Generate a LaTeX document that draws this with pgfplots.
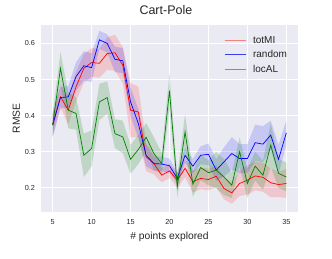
\documentclass[border=0pt]{standalone}
\usepackage{pgfplots}
\pgfplotsset{compat=1.18}
\usepackage{pgfplotstable}
\usepgfplotslibrary{fillbetween}
\usepackage{fontspec}
\setmainfont{Liberation Sans}
\definecolor{sbbg}{RGB}{234,234,242}
\definecolor{txt}{RGB}{38,38,38}
\definecolor{mgreen}{RGB}{0,128,0}
\definecolor{legred}{RGB}{240,130,130}
\definecolor{legblue}{RGB}{60,60,245}
\definecolor{leggreen}{RGB}{90,175,90}

\pgfplotstableread{
x y lo hi
5 0.374 0.344 0.404
6 0.452 0.422 0.482
7 0.415 0.375 0.455
8 0.480 0.440 0.520
9 0.531 0.491 0.571
10 0.547 0.507 0.587
11 0.545 0.505 0.585
12 0.572 0.527 0.617
13 0.574 0.524 0.624
14 0.540 0.490 0.590
15 0.415 0.340 0.490
16 0.410 0.340 0.480
17 0.286 0.246 0.326
18 0.267 0.237 0.297
19 0.235 0.215 0.255
20 0.247 0.227 0.267
21 0.221 0.201 0.241
22 0.254 0.229 0.279
23 0.217 0.187 0.247
24 0.226 0.196 0.256
25 0.223 0.193 0.253
26 0.232 0.202 0.262
27 0.198 0.168 0.228
28 0.186 0.156 0.216
29 0.212 0.177 0.247
30 0.221 0.181 0.261
31 0.233 0.193 0.273
32 0.229 0.189 0.269
33 0.214 0.174 0.254
34 0.209 0.174 0.244
35 0.212 0.172 0.252
}\totmi

\pgfplotstableread{
x y lo hi
5 0.374 0.339 0.409
6 0.450 0.420 0.480
7 0.452 0.422 0.482
8 0.508 0.468 0.548
9 0.538 0.498 0.578
10 0.533 0.493 0.573
11 0.610 0.585 0.635
12 0.600 0.575 0.625
13 0.556 0.521 0.591
14 0.552 0.517 0.587
15 0.438 0.398 0.478
16 0.378 0.338 0.418
17 0.290 0.260 0.320
18 0.267 0.247 0.287
19 0.266 0.246 0.286
20 0.261 0.241 0.281
21 0.226 0.211 0.241
22 0.290 0.270 0.310
23 0.260 0.240 0.280
24 0.290 0.265 0.315
25 0.293 0.263 0.323
26 0.249 0.219 0.279
27 0.272 0.232 0.312
28 0.295 0.250 0.340
29 0.281 0.241 0.321
30 0.281 0.241 0.321
31 0.325 0.275 0.375
32 0.321 0.271 0.371
33 0.346 0.306 0.386
34 0.279 0.239 0.319
35 0.352 0.317 0.387
}\random

\pgfplotstableread{
x y lo hi
5 0.374 0.344 0.404
6 0.531 0.486 0.576
7 0.415 0.365 0.465
8 0.406 0.361 0.451
9 0.290 0.230 0.350
10 0.309 0.259 0.359
11 0.438 0.388 0.488
12 0.450 0.405 0.495
13 0.350 0.310 0.390
14 0.341 0.296 0.386
15 0.279 0.239 0.319
16 0.306 0.266 0.346
17 0.340 0.300 0.380
18 0.295 0.250 0.340
19 0.267 0.237 0.297
20 0.469 0.419 0.519
21 0.203 0.173 0.233
22 0.355 0.305 0.405
23 0.210 0.175 0.245
24 0.256 0.221 0.291
25 0.242 0.207 0.277
26 0.249 0.199 0.299
27 0.230 0.180 0.280
28 0.207 0.172 0.242
29 0.300 0.260 0.340
30 0.212 0.172 0.252
31 0.260 0.220 0.300
32 0.235 0.195 0.275
33 0.318 0.258 0.378
34 0.240 0.200 0.280
35 0.230 0.190 0.270
}\local

\begin{document}
\begin{tikzpicture}
\begin{axis}[
  scale only axis,
  width=257pt, height=187pt,
  xmin=3.5, xmax=36.5,
  ymin=0.133, ymax=0.651,
  xtick={5,10,...,35},
  ytick={0.2,0.3,0.4,0.5,0.6},
  /pgf/number format/assume math mode=true,
  yticklabel style={/pgf/number format/fixed, /pgf/number format/fixed zerofill, /pgf/number format/precision=1, xshift=-2.5pt},
  axis background/.style={fill=sbbg},
  axis line style={draw=none},
  major tick length=0pt,
  grid=major,
  grid style={white, line width=0.9pt},
  tick label style={font=\fontsize{7.3}{9}\selectfont, text=txt},
  xticklabel style={yshift=-4pt},
  every axis title shift=0pt,
  title={Cart-Pole},
  title style={font=\fontsize{12.5}{14}\selectfont, text=txt, at={(axis description cs:0.486,1.080)}, anchor=center},
  xlabel={\# points explored},
  xlabel style={font=\fontsize{10.3}{12}\selectfont, text=txt, at={(axis description cs:0.5,-0.134)}, anchor=center},
  ylabel={RMSE},
  ylabel style={font=\fontsize{10.3}{12}\selectfont, text=txt, at={(axis description cs:-0.096,0.5)}, anchor=center},
  legend cell align=left,
  legend style={draw=none, fill=none, at={(axis description cs:0.70,0.965)}, anchor=north west,
    font=\fontsize{10}{12}\selectfont, text=txt, row sep=1pt, column sep=5pt,
    nodes={text height=7.5pt, text depth=2pt}},
  legend image code/.code={\draw[#1] (0pt,0pt) -- (21pt,0pt);},
]
\coordinate (sw) at (rel axis cs:0,0);
\coordinate (ne) at (rel axis cs:1,1);

\addplot[name path=rlo, draw=none, forget plot] table[x=x,y=lo]{\totmi};
\addplot[name path=rhi, draw=none, forget plot] table[x=x,y=hi]{\totmi};
\addplot[red, fill opacity=0.15, forget plot] fill between[of=rlo and rhi];

\addplot[name path=blo, draw=none, forget plot] table[x=x,y=lo]{\random};
\addplot[name path=bhi, draw=none, forget plot] table[x=x,y=hi]{\random};
\addplot[blue, fill opacity=0.15, forget plot] fill between[of=blo and bhi];

\addplot[name path=glo, draw=none, forget plot] table[x=x,y=lo]{\local};
\addplot[name path=ghi, draw=none, forget plot] table[x=x,y=hi]{\local};
\addplot[mgreen, fill opacity=0.18, forget plot] fill between[of=glo and ghi];

\addplot[red, line width=0.7pt, forget plot] table[x=x,y=y]{\totmi};
\addplot[blue, line width=0.7pt, forget plot] table[x=x,y=y]{\random};
\addplot[mgreen, line width=0.7pt, forget plot] table[x=x,y=y]{\local};

\addlegendimage{legred, line width=1pt}
\addlegendentry{totMI}
\addlegendimage{legblue, line width=1pt}
\addlegendentry{random}
\addlegendimage{leggreen, line width=1pt}
\addlegendentry{locAL}
\end{axis}
\pgfresetboundingbox
\path (sw) ++(-41pt,-47pt) coordinate (a);
\path (ne) ++(34pt,25pt) coordinate (b);
\path (a) rectangle (b);
\end{tikzpicture}
\end{document}
